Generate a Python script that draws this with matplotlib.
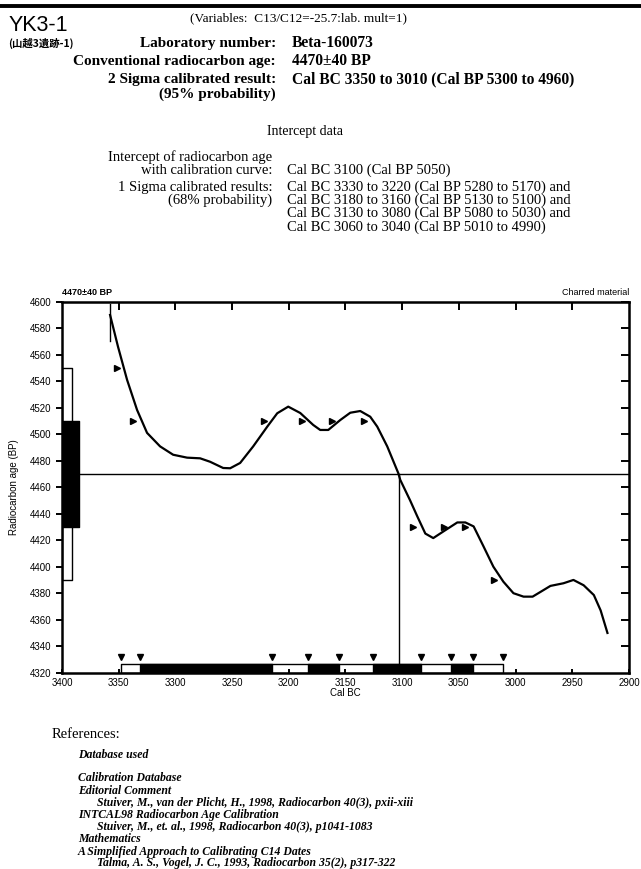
import numpy as np
import matplotlib
matplotlib.use("Agg")
from matplotlib import pyplot as plt

# calibration curve (Cal BC, radiocarbon age BP)
curve_bc = [3357.6, 3350.6, 3342.6, 3333.8, 3325, 3313.5, 3302, 3289.7, 3278.2, 3269.4,
            3257.9, 3251.7, 3242.9, 3231.4, 3219, 3210.2, 3200.5, 3189.9, 3178.5, 3172.3,
            3165.2, 3154.6, 3145.8, 3137, 3128.2, 3122, 3113.2, 3103.4, 3101.7, 3093,
            3086.7, 3079.6, 3072.6, 3063.7, 3051.4, 3044.3, 3037, 3028.4, 3019.6, 3010.8,
            3001.9, 2993, 2985, 2978, 2969.3, 2957.8, 2949, 2940, 2931, 2925, 2919]
curve_bp = [4590, 4566, 4541, 4518.3, 4501, 4490.8, 4484.5, 4482.3, 4481.8, 4479.2,
            4474.5, 4474.3, 4478.3, 4490.8, 4505.7, 4515.8, 4520.8, 4516, 4507, 4503.2,
            4503.2, 4510.7, 4516.2, 4517.5, 4513.2, 4505.7, 4490.8, 4470.5, 4465.5, 4450,
            4438, 4425, 4421.6, 4426.6, 4433.4, 4433.4, 4430.4, 4415.5, 4400, 4388.7,
            4380, 4377.4, 4377.4, 4381, 4385.5, 4387.5, 4390, 4386, 4378.6, 4367, 4350]

age_bp = 4470
age_err = 40
intercept_bc = 3103

# sigma level crossings (markers)
mark_bc = [3350, 3335.6, 3220.8, 3187, 3160.4, 3132, 3089.3, 3062, 3043.4, 3017.4]
mark_bp = [4550, 4510, 4510, 4510, 4510, 4510, 4430, 4430, 4430, 4390]

# calibrated ranges
two_sigma = (3348, 3011)
one_sigma = [(3331, 3215), (3183, 3156), (3126, 3083), (3057, 3038)]

W, H = 641, 869
fig = plt.figure(figsize=(W / 100, H / 100), dpi=100)

def fx(px):
    return px / W

def fy(py):
    return 1 - py / H

serif = "Liberation Serif"
sans = "Liberation Sans"

# header bar
fig.add_artist(plt.Line2D([0, 1], [fy(5.5), fy(5.5)], color="black", lw=2.8))

fig.text(fx(9), fy(31), "YK3-1", family=sans, fontsize=15.5, va="baseline")
fig.text(fx(8), fy(43), "(山越3遺跡-1)", family=["Noto Sans CJK JP", "DejaVu Sans"],
         fontsize=7.5, va="center", weight="bold")
fig.text(fx(190), fy(18), "(Variables:  C13/C12=-25.7:lab. mult=1)", family=serif,
         fontsize=9.5, va="center")

lab_x = fx(276)
val_x = fx(292)
bold_rows = [(43, "Laboratory number:", "Beta-160073"),
             (61, "Conventional radiocarbon age:", "4470±40 BP"),
             (79, "2 Sigma calibrated result:", "Cal BC 3350 to 3010 (Cal BP 5300 to 4960)"),
             (94, "(95% probability)", "")]
for py, lab, val in bold_rows:
    fig.text(lab_x, fy(py), lab, family=serif, weight="bold", fontsize=11,
             ha="right", va="center")
    if val:
        fig.text(val_x, fy(py), val, family=serif, weight="bold", fontsize=11.2,
                 ha="left", va="center")

fig.text(fx(305), fy(132), "Intercept data", family=serif, fontsize=10,
         ha="center", va="center")
lab_x2 = fx(272)
val_x2 = fx(287)
reg_rows = [(157, "Intercept of radiocarbon age", ""),
            (170, "with calibration curve:", "Cal BC 3100 (Cal BP 5050)"),
            (187, "1 Sigma calibrated results:", "Cal BC 3330 to 3220 (Cal BP 5280 to 5170) and"),
            (200, "(68% probability)", "Cal BC 3180 to 3160 (Cal BP 5130 to 5100) and"),
            (213.5, "", "Cal BC 3130 to 3080 (Cal BP 5080 to 5030) and"),
            (227, "", "Cal BC 3060 to 3040 (Cal BP 5010 to 4990)")]
for py, lab, val in reg_rows:
    if lab:
        fig.text(lab_x2, fy(py), lab, family=serif, fontsize=10.5, ha="right", va="center")
    if val:
        fig.text(val_x2, fy(py), val, family=serif, fontsize=10.5, ha="left", va="center")

# main plot
ax = fig.add_axes([fx(62), fy(672.7), fx(629) - fx(62), fy(301.7) - fy(672.7)])
ax.set_xlim(3400, 2900)
ax.set_ylim(4320, 4600)

ax.plot(curve_bc, curve_bp, color="black", lw=1.6)
ax.plot([curve_bc[0], curve_bc[0]], [4570, 4598], color="black", lw=1.0)

ax.axhline(age_bp, color="black", lw=1.0)
ax.plot([intercept_bc, intercept_bc], [4320, age_bp], color="black", lw=1.0)

ax.plot(np.array(mark_bc) + 1.5, mark_bp, ls="none", marker=">", ms=4, color="black")

# radiocarbon age distribution on the left
ax.broken_barh([(3391.5, 8.5)], (age_bp - 2 * age_err, 4 * age_err),
               facecolor="white", edgecolor="black", lw=1.0)
ax.broken_barh([(3385, 15)], (age_bp - age_err, 2 * age_err),
               facecolor="black", edgecolor="black", lw=1.0)

# calibrated ranges along the bottom
ax.broken_barh([(two_sigma[1], two_sigma[0] - two_sigma[1])], (4320, 6.5),
               facecolor="white", edgecolor="black", lw=1.0)
ax.broken_barh([(b, a - b) for a, b in one_sigma], (4320, 6.5),
               facecolor="black", edgecolor="black", lw=1.0)
bounds = [two_sigma[0]] + [v for r in one_sigma for v in r] + [two_sigma[1]]
ax.plot(bounds, [4331.5] * len(bounds), ls="none", marker="v", ms=4, color="black")

for s in ax.spines.values():
    s.set_linewidth(1.8)

ax.set_xticks(np.arange(3400, 2899, -50))
ax.set_yticks(np.arange(4320, 4601, 20))
ax.tick_params(axis="y", direction="out", length=4, width=1.4, labelsize=7)
ax.tick_params(axis="x", direction="in", length=3, width=1.4, labelsize=7)
for lbl in ax.get_xticklabels() + ax.get_yticklabels():
    lbl.set_family(sans)

top = ax.secondary_xaxis("top")
top.set_xticks(np.arange(3350, 2949, -50))
top.tick_params(direction="in", length=6, width=1.4, labeltop=False)
right = ax.secondary_yaxis("right")
right.set_yticks(np.arange(4340, 4601, 20))
right.tick_params(direction="in", length=6, width=1.4, labelright=False)

ax.set_xlabel("Cal BC", family=sans, fontsize=7, labelpad=0)
ax.set_ylabel("Radiocarbon age (BP)", family=sans, fontsize=7, labelpad=8)
ax.text(0, 1.012, "4470±40 BP", transform=ax.transAxes, family=sans, fontsize=6.5,
        weight="bold", ha="left", va="bottom")
ax.text(1, 1.012, "Charred material", transform=ax.transAxes, family=sans, fontsize=6.5,
        ha="right", va="bottom")

# references
fig.text(fx(52), fy(734), "References:", family=serif, fontsize=10.5, va="center")
refs = [(755, 78, "Database used"),
        (778, 78, "Calibration Database"),
        (790.7, 78, "Editorial Comment"),
        (802.7, 97, "Stuiver, M., van der Plicht, H., 1998, Radiocarbon 40(3), pxii-xiii"),
        (815, 78, "INTCAL98 Radiocarbon Age Calibration"),
        (827, 97, "Stuiver, M., et. al., 1998, Radiocarbon 40(3), p1041-1083"),
        (839, 78, "Mathematics"),
        (851.7, 78, "A Simplified Approach to Calibrating C14 Dates"),
        (863, 97, "Talma, A. S., Vogel, J. C., 1993, Radiocarbon 35(2), p317-322")]
for py, px, t in refs:
    fig.text(fx(px), fy(py), t, family=serif, style="italic", weight="bold",
             fontsize=8.5, va="center")

fig.savefig("out.png", dpi=100)
